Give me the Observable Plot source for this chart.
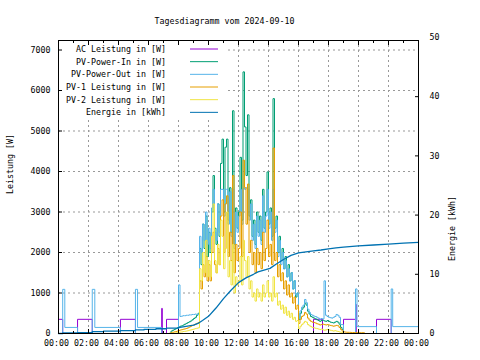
<!DOCTYPE html>
<html><head><meta charset="utf-8">
<script src="https://cdn.jsdelivr.net/npm/d3@7"></script>
<script src="https://cdn.jsdelivr.net/npm/@observablehq/plot@0.6"></script>
<style>body{margin:0;background:#fff} svg{display:block}</style>
</head><body><div id="chart"></div>
<script>
const title = "Tagesdiagramm vom 2024-09-10";
const seriesNames = ["AC Leistung in [W]", "PV-Power-In in [W]", "PV-Power-Out in [W]", "PV-1 Leistung in [W]", "PV-2 Leistung in [W]", "Energie in [kWh]"];
const seriesColors = ["#9400d3", "#009e73", "#56b4e9", "#e69f00", "#f0e442", "#0072b2"];
const hourTicks = [0, 2, 4, 6, 8, 10, 12, 14, 16, 18, 20, 22, 24];
const hourLabels = ["00:00", "02:00", "04:00", "06:00", "08:00", "10:00", "12:00", "14:00", "16:00", "18:00", "20:00", "22:00", "00:00"];
const minorHours = [1, 3, 5, 7, 9, 11, 13, 15, 17, 19, 21, 23];
const powerTicks = [0, 1000, 2000, 3000, 4000, 5000, 6000, 7000];
const energyTicks = [0, 10, 20, 30, 40, 50];
const yLabelLeft = "Leistung [W]";
const yLabelRight = "Energie [kWh]";

// AC Leistung (step points: hour, W)
const acT = [0, 0.28, 1.27, 2.25, 4.13, 5.13, 6.88, 6.92, 7.2, 8.0, 17.0, 17.6, 19.0, 19.8, 19.85, 21.2, 22.18, 24];
const acV = [350, 0, 350, 0, 350, 0, 620, 0, 350, 0, 350, 0, 350, 720, 0, 350, 0, 0];

// PV-Power-Out standby segments
const outMorningT = [0, 0.28, 0.42, 1.27, 2.25, 2.42, 4.13, 5.13, 5.27, 6.88];
const outMorningV = [0, 1090, 150, 0, 1090, 150, 0, 1090, 150, 0];
const outEveningT = [19.8, 19.9, 21.2, 22.18, 22.28, 24];
const outEveningV = [1100, 170, 0, 1100, 170, 170];

// Active period: samples every 0.1 h starting 07:00
const activeStart = 7.0;
const activeStep = 0.1;
const pvIn = [
  0,0,0,0,0,60,80,100,120,140,
  160,180,190,210,230,250,270,290,310,340,
  370,400,450,500,2100,1700,2700,2100,2900,1900,
  2500,2000,3000,3900,2600,2200,3200,2400,4200,4800,
  3000,4600,4800,2800,3600,2500,5500,2200,3100,2600,
  3000,4350,2800,6460,5100,3900,5400,2900,3300,2400,
  2800,2200,3000,2500,2900,2300,3560,2600,3000,3990,
  2700,3100,2400,5800,2600,2900,2000,2400,1800,2100,
  1600,1900,1400,1700,1300,1500,1100,1300,900,1000,
  350,500,600,650,750,700,550,480,420,400,
  380,360,340,320,300,320,330,310,300,320,
  300,280,270,260,280,300,280,230,150,100,
  0];
const pvOut = [
  0,0,0,0,0,0,0,0,0,0,
  1200,420,430,440,440,450,450,460,460,470,
  470,480,470,480,2400,2000,2700,2300,3000,2200,
  2600,2100,3100,3560,2500,2300,3200,2500,3560,3560,
  2900,3560,3560,2700,3500,2400,3560,2100,3000,2500,
  2900,3560,2700,3590,3560,3600,3560,2800,3200,2300,
  2700,2100,2900,2400,2800,2200,3400,2500,2900,3560,
  2600,3000,2300,3560,2500,2800,1900,2300,1700,2000,
  1600,1800,1400,1600,1300,1500,1100,1300,950,1000,
  400,560,650,700,840,760,600,520,470,450,
  430,420,400,380,350,370,360,1300,450,420,
  400,390,380,400,420,470,450,400,220,220,
  0];
const pv1 = [
  0,0,0,0,10,20,30,40,50,60,
  75,85,95,105,115,125,140,160,180,200,
  210,230,250,270,1300,1100,1700,1400,1900,1300,
  1700,1300,2000,2500,1700,1500,2100,1700,2900,3300,
  2000,3200,3400,1900,2500,1800,3900,1500,2200,1800,
  2100,3000,1900,4280,3600,2700,3690,2000,2300,1700,
  2000,1500,2100,1700,2000,1600,2500,1800,2100,2800,
  1900,2200,1700,4580,1800,2000,1400,1700,1300,1500,
  1100,1300,950,1200,900,1000,750,900,600,700,
  250,350,420,450,520,480,380,330,300,280,
  270,260,240,230,210,220,230,220,210,220,
  210,200,190,180,190,200,190,150,100,60,
  40,35,30,30,28,25,25,22,20,20,20,20,20,20,0];
const pv2 = [
  0,0,0,0,0,0,5,10,15,20,
  30,35,40,50,55,60,70,80,90,100,
  110,120,130,140,1600,1300,2000,1500,2300,1400,
  1800,1400,2400,3200,1800,1500,2200,1700,2800,2400,
  1600,2100,3000,1400,1800,1200,2200,1000,1400,1200,
  1300,1900,1200,2300,1800,1400,1900,1100,1300,900,
  1000,800,1100,900,1000,800,1200,900,1000,1300,
  900,1000,800,1400,900,1000,700,800,600,700,
  500,650,450,550,400,500,350,400,300,320,
  120,180,220,260,300,280,220,190,170,150,
  140,130,120,110,100,110,90,80,90,100,
  90,80,70,60,70,60,50,40,30,20,
  0];

// Energie (kWh)
const energyMorningT = [0, 0.28, 1.27, 2.25, 3.0, 4.13, 5.13, 5.7, 6.5, 7.2, 8.0];
const energyMorningV = [0, 0.1, 0.15, 0.3, 0.4, 0.5, 0.6, 0.7, 0.8, 0.9, 1.0];
const energyDayT = [8.0, 8.5, 9.0, 9.3, 9.6, 10.0, 10.5, 11.0, 11.5, 12.0, 12.5, 13.0, 13.3, 14.1, 14.5, 15.0, 15.5, 16.0, 16.5, 17.0, 17.5, 18.0, 18.5, 19.0, 20.0, 21.0, 22.0, 23.0, 24.0];
const energyDayV = [1.0, 1.2, 1.4, 1.7, 2.2, 2.9, 4.3, 5.9, 7.3, 8.6, 9.4, 10.0, 10.4, 11.0, 11.7, 12.5, 13.2, 13.6, 13.8, 13.95, 14.1, 14.3, 14.45, 14.6, 14.8, 14.95, 15.1, 15.25, 15.4];

const powerMax = 7235;
const wPerKWh = 146.2;

const pts = (T, V, k = 1) => T.map((t, i) => ({t, v: V[i] * k}));
const act = arr => arr.map((v, i) => ({t: +(activeStart + i * activeStep).toFixed(2), v}));

const acRows = pts(acT, acV);
const inRows = act(pvIn);
const outRows = [...pts(outMorningT, outMorningV), ...act(pvOut), ...pts(outEveningT, outEveningV)];
const pv1Rows = act(pv1);
const pv2Rows = act(pv2);
const eMorningRows = pts(energyMorningT, energyMorningV, wPerKWh);
const eDayRows = pts(energyDayT, energyDayV, wPerKWh);

const font = "'DejaVu Sans Mono', monospace";

function legendBg() {
  return d3.create("svg:rect").attr("x", 59).attr("y", 41).attr("width", 166).attr("height", 78).attr("fill", "white").node();
}
function legendItems() {
  const g = d3.create("svg:g").attr("font-family", font).attr("font-size", "8.3px");
  seriesNames.forEach((name, i) => {
    const y = 49 + i * 12.67;
    g.append("text").attr("x", 166).attr("y", y).attr("dy", "0.35em").attr("text-anchor", "end").attr("fill", "black").text(name);
    g.append("line").attr("x1", 190).attr("x2", 218).attr("y1", y).attr("y2", y).attr("stroke", seriesColors[i]).attr("stroke-width", 1);
  });
  return g.node();
}

const lineOpts = (c, w = 1, curve = "step-after") => ({x: "t", y: "v", stroke: c, strokeWidth: w, curve});

const chart = Plot.plot({
  width: 480, height: 360,
  marginLeft: 58, marginRight: 62, marginTop: 40, marginBottom: 27,
  style: {fontFamily: font, fontSize: "8.3px", background: "white", color: "black", overflow: "visible"},
  x: {domain: [0, 24]},
  y: {domain: [0, powerMax]},
  marks: [
    Plot.gridX({ticks: hourTicks.slice(1, -1), stroke: "#999999", strokeOpacity: 1, strokeDasharray: "2,3"}),
    Plot.gridY({ticks: powerTicks.slice(1), stroke: "#999999", strokeOpacity: 1, strokeDasharray: "2,3"}),
    legendBg,
    Plot.line(acRows, lineOpts(seriesColors[0])),
    Plot.line(inRows, lineOpts(seriesColors[1])),
    Plot.line(outRows, lineOpts(seriesColors[2])),
    Plot.line(pv1Rows, lineOpts(seriesColors[3])),
    Plot.line(pv2Rows, lineOpts(seriesColors[4])),
    Plot.line(eMorningRows, lineOpts(seriesColors[5], 1.3, "step-after")),
    Plot.line(eDayRows, lineOpts(seriesColors[5], 1.3, "linear")),
    Plot.frame({stroke: "black"}),
    Plot.axisX({ticks: hourTicks, tickSize: 0, tickPadding: 7, dx: -2, tickFormat: d => hourLabels[hourTicks.indexOf(d)], label: null}),
    Plot.axisX({ticks: hourTicks, tickSize: -4, tickFormat: () => "", label: null}),
    Plot.axisX({ticks: minorHours, tickSize: -2, tickFormat: () => "", label: null}),
    Plot.axisX({anchor: "top", ticks: hourTicks, tickSize: -4, tickFormat: () => "", label: null}),
    Plot.axisX({anchor: "top", ticks: minorHours, tickSize: -2, tickFormat: () => "", label: null}),
    Plot.axisY({ticks: powerTicks, tickSize: 0, tickPadding: 8, tickFormat: d => String(d), label: null}),
    Plot.axisY({ticks: powerTicks, tickSize: -4, tickFormat: () => "", label: null}),
    Plot.axisY({anchor: "right", ticks: energyTicks.map(k => k * wPerKWh), tickSize: 0, tickPadding: 11, tickFormat: d => String(Math.round(d / wPerKWh)), label: null}),
    Plot.axisY({anchor: "right", ticks: energyTicks.slice(0, -1).map(k => k * wPerKWh), tickSize: -4, tickFormat: () => "", label: null}),
    Plot.text([title], {frameAnchor: "top", dy: -22, dx: -14}),
    Plot.text([yLabelLeft], {frameAnchor: "left", rotate: -90, dx: -48, dy: 7}),
    Plot.text([yLabelRight], {frameAnchor: "right", rotate: -90, dx: 33.5, dy: 9}),
    legendItems
  ]
});
document.getElementById("chart").appendChild(chart);
</script></body></html>
